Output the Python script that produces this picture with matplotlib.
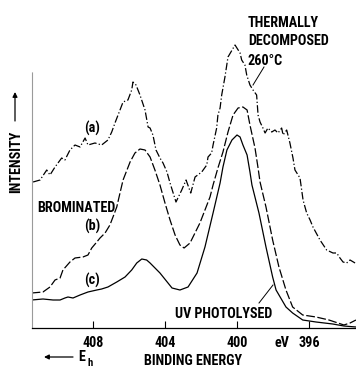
import matplotlib
matplotlib.use("Agg")
import matplotlib.pyplot as plt
from matplotlib import font_manager

# ---------------- data (binding energy in eV, intensity in arbitrary units) ----
energy_a = [411.33, 410.94, 410.57, 410.39, 410.11, 409.74, 409.56, 409.28, 409.00, 408.72,
            408.44, 408.28, 407.89, 407.52, 407.17, 406.96, 406.78, 406.50, 406.33, 406.06,
            405.85, 405.78, 405.61, 405.39, 405.11, 404.94, 404.83, 404.67, 404.50, 404.28,
            404.11, 403.89, 403.72, 403.39, 403.07, 402.83, 402.57, 402.33, 401.96, 401.68,
            401.61, 401.41, 401.33, 401.13, 401.06, 400.94, 400.85, 400.67, 400.50, 400.11,
            399.83, 399.74, 399.56, 399.46, 399.28, 399.11, 398.91, 398.83, 398.72, 398.56,
            398.44, 398.28, 398.07, 397.89, 397.72, 397.52, 397.44, 397.24, 397.06, 396.89,
            396.78, 396.50, 396.33, 396.13, 395.94, 395.78, 395.39, 395.02, 394.67, 394.46,
            394.28, 394.11, 393.91, 393.72, 393.44]
intensity_a = [146, 148, 158, 153, 161, 170, 168, 178, 183, 181,
               190, 183, 185, 183, 188, 196, 205, 218, 226, 228,
               238, 246, 243, 233, 218, 201, 200, 193, 178, 170,
               165, 156, 145, 126, 138, 148, 135, 151, 156, 163,
               171, 175, 183, 200, 213, 220, 233, 251, 271, 283,
               275, 268, 263, 253, 243, 238, 233, 213, 206, 200,
               195, 200, 196, 198, 195, 200, 193, 198, 185, 170,
               158, 150, 128, 115, 108, 101, 88, 78, 75, 75,
               70, 66, 65, 68, 65]

energy_b = [411.41, 410.78, 410.39, 410.11, 409.83, 409.67, 409.28, 409.00, 408.56, 408.28,
            408.07, 407.79, 407.61, 407.33, 407.06, 406.89, 406.68, 406.50, 406.33, 405.94,
            405.67, 405.39, 405.11, 404.83, 404.56, 404.28, 404.00, 403.72, 403.44, 403.17,
            402.94, 402.61, 402.06, 401.78, 401.50, 401.33, 401.06, 400.78, 400.50, 400.22,
            399.94, 399.67, 399.44, 399.28, 399.00, 398.83, 398.72, 398.39, 398.02, 397.67,
            397.28, 396.91, 396.35, 395.61, 394.89, 394.06, 393.72, 393.39]
intensity_b = [35, 36, 41, 48, 50, 58, 66, 70, 71, 73,
               80, 86, 90, 95, 103, 111, 121, 135, 148, 166,
               175, 179, 178, 171, 158, 143, 125, 108, 93, 83,
               80, 85, 105, 118, 131, 143, 160, 176, 196, 213,
               220, 221, 218, 203, 180, 160, 146, 121, 88, 61,
               38, 21, 13, 11, 8, 3, 5, 8]

energy_c = [411.41, 410.78, 410.22, 409.83, 409.56, 409.39, 409.11, 408.72, 408.28, 407.79,
            407.52, 407.17, 406.68, 406.22, 405.85, 405.57, 405.29, 405.02, 404.83, 404.28,
            403.61, 403.17, 402.72, 402.22, 401.78, 401.33, 400.94, 400.78, 400.56, 400.28,
            400.00, 399.83, 399.67, 399.44, 399.28, 399.17, 398.78, 398.39, 398.02, 397.83,
            397.28, 396.91, 396.35, 395.61, 394.68, 394.06, 393.39]
intensity_c = [28, 29, 28, 28, 30, 31, 30, 33, 36, 38,
               39, 41, 46, 51, 58, 65, 69, 68, 65, 55,
               40, 38, 41, 55, 81, 115, 145, 161, 178, 188,
               193, 191, 183, 173, 156, 143, 115, 81, 51, 38,
               21, 15, 8, 6, 4, 2, 1]

tick_values = [408, 404, 400, 396]
tick_labels = ["408", "404", "400", "396"]

# ---------------- fonts ----------------
available = {f.name for f in font_manager.fontManager.ttflist}
prefs = ["Liberation Sans Narrow", "DejaVu Sans Condensed", "Roboto Condensed",
         "Roboto", "Liberation Sans", "DejaVu Sans"]
font = [f for f in prefs if f in available][0]
narrow = font in ("Liberation Sans Narrow", "DejaVu Sans Condensed", "Roboto Condensed")
fs = 10.2 if narrow else 9.3
plt.rcParams['font.family'] = [font, 'DejaVu Sans']

W, H = 356, 367
fig = plt.figure(figsize=(W / 100, H / 100), dpi=100)

# axes: left edge at px 32, bottom at px 328, spanning to top/right of image
ax = fig.add_axes([32 / W, 1 - 328 / H, (W - 32) / W, 328 / H])

def X(px):
    return 413.1667 - px / 18.0

def Y(py):
    return 328 - py

ax.set_xlim(X(32), X(356))
ax.set_ylim(0, 328)

lw = 0.9
ax.plot(energy_a, intensity_a, color='black', lw=lw, dashes=(6, 1.8, 1, 1.8))
ax.plot(energy_b, intensity_b, color='black', lw=lw, dashes=(7, 2))
ax.plot(energy_c, intensity_c, color='black', lw=lw)

ax.spines['top'].set_visible(False)
ax.spines['left'].set_bounds(0, Y(72))
ax.spines['left'].set_color('#9a9a9a')
ax.spines['left'].set_linestyle((0, (2, 1)))
ax.spines['left'].set_linewidth(0.8)
ax.spines['right'].set_bounds(0, Y(20))
ax.spines['right'].set_color('#cfcfcf')
ax.spines['right'].set_linestyle((0, (1, 2)))
ax.spines['right'].set_linewidth(0.7)
ax.spines['bottom'].set_linewidth(0.9)

ax.set_xticks(tick_values)
ax.set_xticklabels([])
ax.tick_params(axis='x', direction='in', length=5, width=0.8)
ax.set_yticks([])

tk = dict(fontsize=fs, fontweight='bold', color='black', rotation_mode='anchor')
for v, lab in zip(tick_values, tick_labels):
    ax.text(v, Y(347), lab, ha='center', va='baseline', clip_on=False, **tk)
ax.text(X(282), Y(347), "eV", ha='center', va='baseline', clip_on=False, **tk)
ax.text(X(193), Y(365), "BINDING ENERGY", ha='center', va='baseline', clip_on=False, **tk)

# annotations
ax.text(X(248), Y(27), "THERMALLY", ha='left', va='baseline', **tk)
ax.text(X(248), Y(45), "DECOMPOSED", ha='left', va='baseline', **tk)
ax.text(X(248), Y(65), "260°C", ha='left', va='baseline', **tk)
ax.plot([X(264), X(253)], [Y(67), Y(85)], color='black', lw=0.7)

ax.text(X(92), Y(133), "(a)", ha='center', va='baseline', **tk)
ax.text(X(37), Y(212), "BROMINATED", ha='left', va='baseline', **tk)
ax.text(X(92), Y(231), "(b)", ha='center', va='baseline', **tk)
ax.text(X(92), Y(285), "(c)", ha='center', va='baseline', **tk)
ax.text(X(175), Y(318), "UV PHOTOLYSED", ha='left', va='baseline', **tk)
ax.plot([X(259), X(273)], [Y(303), Y(285)], color='black', lw=0.7)

# E_h arrow
ax.annotate("", xy=(X(44), Y(357)), xytext=(X(73), Y(357)), annotation_clip=False,
            arrowprops=dict(arrowstyle='-|>', color='black', lw=0.9,
                            mutation_scale=7, shrinkA=0, shrinkB=0))
ax.text(X(78), Y(361), "E", ha='left', va='baseline', clip_on=False, **tk)
ax.text(X(87.5), Y(365.5), "h", ha='left', va='baseline', clip_on=False,
        fontsize=fs * 0.75, fontweight='bold', rotation_mode='anchor')

# INTENSITY label with arrow (figure pixel coordinates)
def fx(px):
    return px / W

def fy(py):
    return 1 - py / H

fig.text(fx(20), fy(162), "INTENSITY", rotation=90, ha='center', va='baseline',
         rotation_mode='anchor', fontsize=fs, fontweight='bold')
fig.add_artist(matplotlib.patches.FancyArrowPatch(
    (fx(15), fy(121)), (fx(15), fy(92)), transform=fig.transFigure,
    arrowstyle='-|>', mutation_scale=7, color='black', lw=0.9,
    shrinkA=0, shrinkB=0))

fig.savefig("out.png", dpi=100)
